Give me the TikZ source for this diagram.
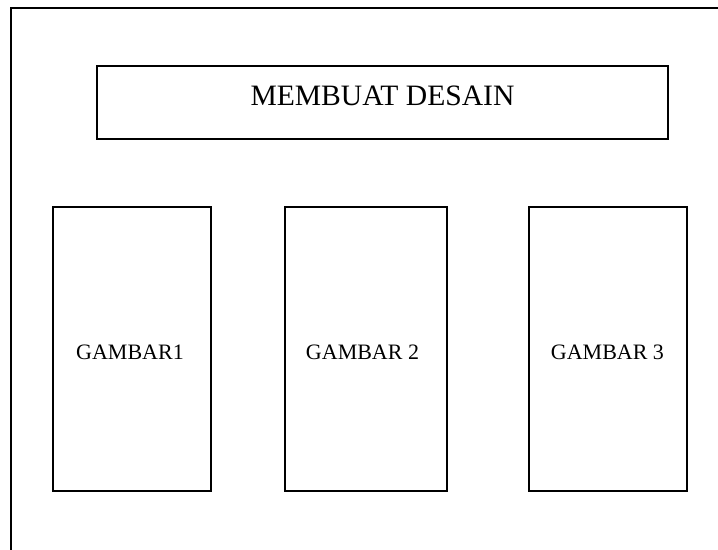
\documentclass[tikz,border=0pt]{standalone}
\usepackage{fontspec}
\setmainfont{Liberation Serif}
\begin{document}
\begin{tikzpicture}[x=0.75pt,y=-0.75pt,
  frame/.style={line width=1.5pt,line cap=rect},
  boxnode/.style={draw,line width=1.2pt,inner sep=0pt,anchor=center},
  biglbl/.style={inner sep=0pt,font=\fontsize{22.2pt}{26pt}\selectfont},
  smalllbl/.style={inner sep=0pt,font=\fontsize{16.5pt}{20pt}\selectfont}]
\useasboundingbox (0,0) rectangle (718,550);
\coordinate (fbl) at (11,552);
\coordinate (ftl) at (11,8);
\coordinate (ftr) at (720,8);
\draw[frame] (fbl) -- (ftl) -- (ftr);
\node[boxnode,minimum width=571*0.75pt,minimum height=73*0.75pt] (title) at (382.5,102.5) {};
\node[biglbl] (titletext) at ([yshift=5.25pt]title.center) {MEMBUAT DESAIN};
\node[boxnode,minimum width=158*0.75pt,minimum height=284*0.75pt] (g1) at (132,349) {};
\node[boxnode,minimum width=162*0.75pt,minimum height=284*0.75pt] (g2) at (366,349) {};
\node[boxnode,minimum width=158*0.75pt,minimum height=284*0.75pt] (g3) at (608,349) {};
\node[smalllbl] (t1) at ([xshift=-1.5pt,yshift=-2.25pt]g1.center) {GAMBAR1};
\node[smalllbl] (t2) at ([xshift=-2.6pt,yshift=-2.25pt]g2.center) {GAMBAR 2};
\node[smalllbl] (t3) at ([xshift=-0.4pt,yshift=-2.25pt]g3.center) {GAMBAR 3};
\end{tikzpicture}
\end{document}
